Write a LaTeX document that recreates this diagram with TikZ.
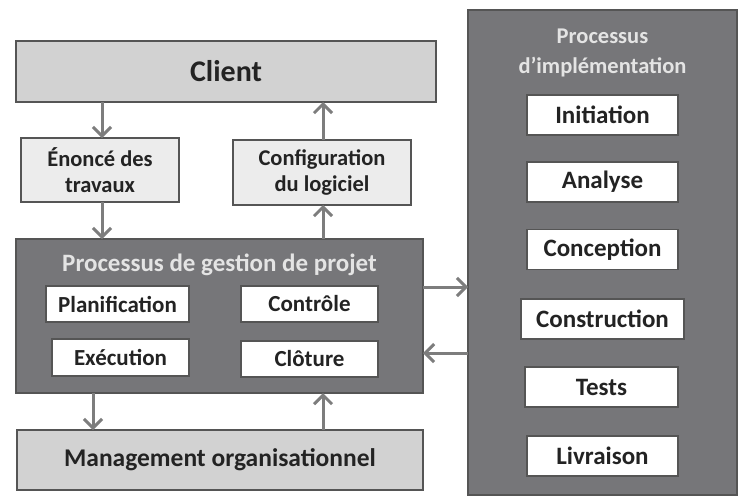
\documentclass[tikz,border=0pt]{standalone}
\usepackage{fontspec}
\setmainfont{Carlito}
\usetikzlibrary{arrows.meta,calc}
\definecolor{darkbox}{RGB}{118,118,121}
\definecolor{lightbox}{RGB}{210,210,210}
\definecolor{paleboxc}{RGB}{236,236,236}
\definecolor{edgec}{RGB}{85,85,85}
\definecolor{arrowc}{RGB}{125,125,125}
\definecolor{titlec}{RGB}{228,228,228}
\definecolor{textc}{RGB}{35,35,35}
\tikzset{
  x=1pt, y=-1pt,
  basebox/.style={draw=edgec, line width=1.4pt, inner sep=0pt, outer sep=0pt, align=center, text=textc, font=\bfseries},
  bigbox/.style={basebox, fill=lightbox, font=\fontsize{30}{32}\selectfont\bfseries},
  palebox/.style={basebox, fill=paleboxc, font=\fontsize{22.5}{26}\selectfont\bfseries},
  procbox/.style={basebox, fill=darkbox},
  whitebox/.style={basebox, fill=white, line width=1.2pt, font=\fontsize{23}{25}\selectfont\bfseries},
  implbox/.style={whitebox, font=\fontsize{25}{27}\selectfont\bfseries},
  titletext/.style={text=titlec, font=\fontsize{22.5}{30}\selectfont\bfseries, align=center, inner sep=0pt},
  arr/.style={draw=arrowc, line width=3pt, -{Straight Barb[length=9pt,width=18pt]}},
}
\begin{document}
\begin{tikzpicture}
\useasboundingbox[fill=white] (0,0) rectangle (742,498);
% big frames
\node[procbox, minimum width=269, minimum height=485] (impl) at (602.5,252.5) {};
\node[bigbox, minimum width=420, minimum height=61] (client) at (226,71.5) {Client};
\node[palebox, minimum width=158, minimum height=64] (enonce) at (100,170) {Énoncé des\\travaux};
\node[palebox, minimum width=178, minimum height=65] (config) at (322,172.5) {Configuration\\du logiciel};
\node[procbox, minimum width=407, minimum height=154] (gestion) at (219.5,316) {};
\node[bigbox, minimum width=406, minimum height=60, font=\fontsize{25.5}{28}\selectfont\bfseries] (mgmt) at (220,460) {Management organisationnel};
% gestion contents
\node[titletext, font=\fontsize{25}{28}\selectfont\bfseries] (gtitle) at (219.5,265) {Processus de gestion de projet};
\node[whitebox, minimum width=143, minimum height=36] (plan) at (117.5,304) {Planification};
\node[whitebox, minimum width=137, minimum height=36] (ctrl) at (309.5,304) {Contrôle};
\node[whitebox, minimum width=137, minimum height=37] (exec) at (120.5,357.5) {Exécution};
\node[whitebox, minimum width=137, minimum height=36] (clot) at (309.5,359) {Clôture};
% implementation contents
\node[titletext] (ititle) at (602.5,53) {Processus\\d’implémentation};
\node[implbox, minimum width=151, minimum height=40] (init) at (602.5,115) {Initiation};
\node[implbox, minimum width=151, minimum height=40] (anal) at (602.5,182) {Analyse};
\node[implbox, minimum width=151, minimum height=40] (conc) at (602.5,249.5) {Conception};
\node[implbox, minimum width=163, minimum height=40] (cons) at (602.5,319) {Construction};
\node[implbox, minimum width=153, minimum height=40] (test) at (601.5,387) {Tests};
\node[implbox, minimum width=151, minimum height=40] (livr) at (602.5,456) {Livraison};
% connector anchors
\coordinate (xa) at (102,0);
\coordinate (xb) at (93,0);
\coordinate (xc) at (323,0);
\coordinate (ya) at (0,287);
\coordinate (yb) at (0,353);
% connectors
\draw[arr] (client.south -| xa) -- (enonce.north -| xa);
\draw[arr] (enonce.south -| xa) -- (gestion.north -| xa);
\draw[arr] (config.north -| xc) -- (client.south -| xc);
\draw[arr] (gestion.north -| xc) -- (config.south -| xc);
\draw[arr] (gestion.south -| xb) -- (mgmt.north -| xb);
\draw[arr] (mgmt.north -| xc) -- (gestion.south -| xc);
\draw[arr] (gestion.east |- ya) -- (impl.west |- ya);
\draw[arr] (impl.west |- yb) -- (gestion.east |- yb);
\end{tikzpicture}
\end{document}
